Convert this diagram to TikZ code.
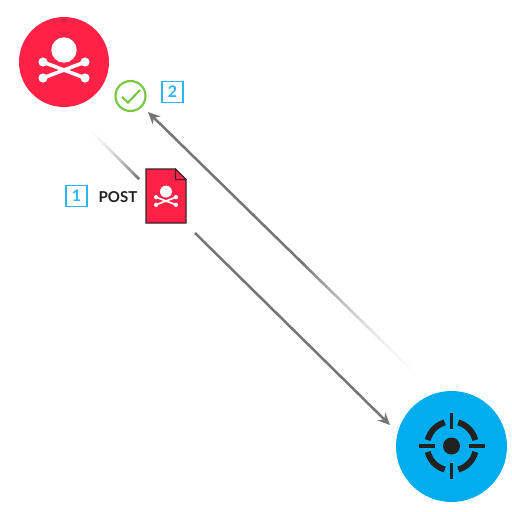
\documentclass[tikz,border=0pt]{standalone}
\usepackage{fontspec}
\setmainfont{Lato}[BoldFont=Lato Bold]
\usetikzlibrary{arrows.meta,calc}
\definecolor{hackred}{HTML}{FF2146}
\definecolor{targetblue}{HTML}{00AEEF}
\definecolor{tagblue}{HTML}{29B6F6}
\definecolor{okgreen}{HTML}{7AC943}
\definecolor{linegrey}{HTML}{757575}
\definecolor{inkdark}{HTML}{222222}
\newcommand{\skullmark}[3]{%
  \begin{scope}[shift={(#1,#2)},x=#3pt,y=-#3pt]
    \fill[white] (0,-20) circle (12.7);
    \draw[white,line width=#3*3.6pt] (-21,-8) -- (21,8) (-21,8) -- (21,-8);
    \foreach \ex/\ey in {-21/-8,21/-8,-21/8,21/8}{\fill[white] (\ex,\ey) circle (4.6);}
  \end{scope}}
\newcommand{\fadeline}[3]{% from (#1, pale) to (#2, full) over fraction #3
  \foreach \i in {1,...,40}{
    \pgfmathsetmacro{\ta}{(\i-1)/40*#3}
    \pgfmathsetmacro{\tb}{(\i+0.15)/40*#3}
    \pgfmathtruncatemacro{\pc}{\i*\i/16}
    \draw[line width=2.5pt,linegrey!\pc!white] ($(#1)!\ta!(#2)$) -- ($(#1)!\tb!(#2)$);
  }}
\tikzset{
  tagbox/.style={draw=tagblue,line width=1.8pt,minimum size=21pt,inner sep=0pt,text=tagblue,font=\bfseries\fontsize{16}{16}\selectfont},
  flow/.style={line width=2.5pt,linegrey,-{Stealth[length=12pt,width=11pt]}}
}
\begin{document}
\begin{tikzpicture}[x=1pt,y=-1pt]
\useasboundingbox (0,0) rectangle (512,512);
% attacker
\node[circle,fill=hackred,minimum size=90pt,inner sep=0pt] (attacker) at (64,62) {};
\skullmark{64}{70}{1}
% target
\node[circle,fill=targetblue,minimum size=111pt,inner sep=0pt] (target) at (451.5,446.5) {};
\begin{scope}[shift={(451.5,446)}]
  \fill[inkdark] (0,0) circle (8.5);
  \draw[inkdark,line width=3.4pt] (0,-33) -- (0,-17) (0,17) -- (0,33) (-33,0) -- (-17,0) (17,0) -- (33,0);
  \draw[inkdark,line width=6pt] (14:24.5) arc (14:74:24.5);
  \draw[inkdark,line width=6pt] (106:24.5) arc (106:166:24.5);
  \draw[inkdark,line width=6pt] (194:24.5) arc (194:254:24.5);
  \draw[inkdark,line width=6pt] (286:24.5) arc (286:346:24.5);
\end{scope}
% check
\node[circle,draw=okgreen,line width=2.2pt,minimum size=30pt,inner sep=0pt] (check) at (130.5,96) {};
\draw[okgreen,line width=2.2pt] (122,97) -- (128,102.5) -- (140,90);
\node[tagbox] (tagtwo) at (172.5,92) {2};
% file
\node[tagbox] (tagone) at (76.5,196) {1};
\node[font=\bfseries\fontsize{15}{15}\selectfont,text=inkdark,inner sep=0pt] (post) at (118,197.5) {POST};
\draw[fill=hackred,draw=inkdark!90!hackred,line width=1.2pt] (146,169) -- (175.5,169) -- (186,179.5) -- (186,223) -- (146,223) -- cycle;
\draw[fill=hackred,draw=inkdark!90!hackred,line width=1pt] (175.5,169) -- (175.5,179.5) -- (186,179.5) -- cycle;
\skullmark{166}{201}{0.47}
% connectors
\coordinate (oneA) at (85,125);
\coordinate (oneB) at (139,179);
\fadeline{oneA}{oneB}{1}
\coordinate (twoA) at (195,233);
\coordinate (twoB) at (390,425);
\draw[flow] (twoA) -- (twoB);
\coordinate (backA) at (427,385);
\coordinate (backB) at (148,112);
\fadeline{backA}{backB}{0.45}
\draw[flow] ($(backA)!0.44!(backB)$) -- (backB);
\end{tikzpicture}
\end{document}
